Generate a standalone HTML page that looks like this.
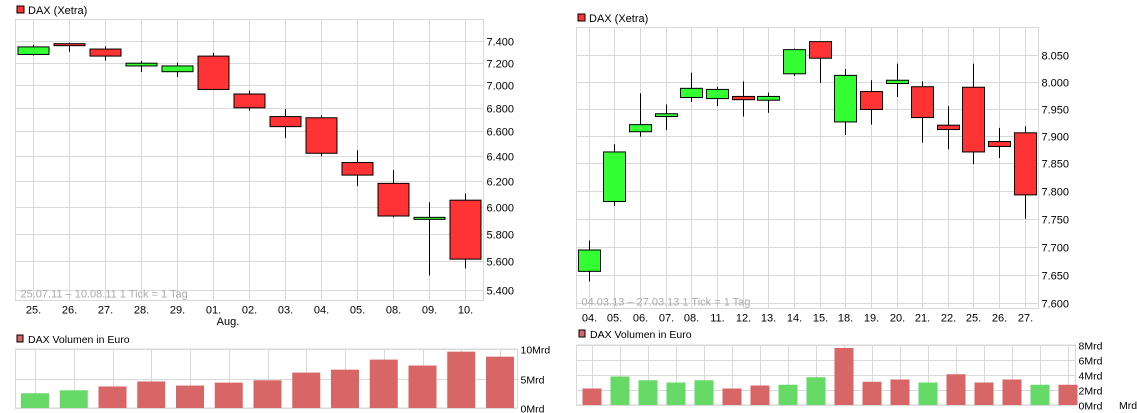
<!DOCTYPE html>
<html><head><meta charset="utf-8"><style>
body{margin:0;background:#fff;width:1137px;height:413px;overflow:hidden}
svg{display:block;font-family:"Liberation Sans",sans-serif}
</style></head><body>
<svg id="s" width="1137" height="413"></svg>
<script>
const leftDates=["25.","26.","27.","28.","29.","01.","02.","03.","04.","05.","08.","09.","10."];
const leftOpen=[7275,7375,7325,7170,7118,7260,6920,6725,6715,6345,6180,5905,6050];
const leftHigh=[7365,7385,7350,7215,7200,7290,6950,6790,6735,6445,6285,6035,6100];
const leftLow=[7265,7300,7220,7115,7070,6955,6775,6545,6395,6160,5920,5500,5550];
const leftClose=[7345,7358,7260,7195,7170,6960,6800,6640,6420,6245,5930,5920,5615];
const leftTicks=[5400,5600,5800,6000,6200,6400,6600,6800,7000,7200,7400];
const leftVol=[2.5,3.0,3.65,4.5,3.8,4.3,4.7,6.0,6.5,8.2,7.2,9.55,8.7];
const leftVolUp=[1,1,0,0,0,0,0,0,0,0,0,0,0];
const leftVolTicks=[0,5,10];

const rightDates=["04.","05.","06.","07.","08.","11.","12.","13.","14.","15.","18.","19.","20.","21.","22.","25.","26.","27."];
const rightOpen=[7656,7781,7908,7936,7971,7969,7973,7966,8015,8075,7926,7982,7997,7991,7920,7990,7890,7906];
const rightHigh=[7711,7885,7979,7958,8017,7991,8001,7980,8062,8075,8024,8003,8034,8001,7955,8034,7915,7918];
const rightLow=[7638,7773,7899,7911,7963,7955,7936,7943,8011,7998,7902,7921,7972,7888,7876,7849,7860,7750];
const rightClose=[7694,7871,7921,7941,7988,7986,7967,7973,8060,8044,8012,7949,8003,7934,7912,7871,7881,7793];
const rightTicks=[7600,7650,7700,7750,7800,7850,7900,7950,8000,8050];
const rightVol=[2.2,3.8,3.3,3.0,3.3,2.2,2.6,2.7,3.7,7.6,3.1,3.4,3.0,4.1,3.0,3.4,2.7,2.7];
const rightVolUp=[0,1,1,1,1,0,0,1,1,0,0,0,1,0,0,0,1,0];
const rightVolTicks=[0,2,4,6,8];

const S=document.getElementById('s');const NS="http://www.w3.org/2000/svg";
function mk(t,a,txt){const e=document.createElementNS(NS,t);for(const k in a)e.setAttribute(k,a[k]);if(txt!=null)e.textContent=txt;S.appendChild(e);return e;}
const GRID="#d9d9d9";

function candleChart(o){
  const yv=v=>o.y0+(Math.log(o.vTop)-Math.log(v))/(Math.log(o.vTop)-Math.log(o.vBot))*(o.y1-o.y0);
  const xc=i=>o.xFirst+i*o.step;
  let sq=mk('rect',{x:o.lx,y:o.ly-4,width:7,height:7,fill:'#ff3333',stroke:'#000','stroke-width':1});
  
  let lt=mk('text',{x:o.lx+11,y:o.ly+4,'font-size':11,fill:'#000'},'DAX (Xetra)');
  
  let bx=mk('rect',{x:o.bx0,y:o.by0,width:o.bx1-o.bx0,height:o.by1-o.by0,fill:'#fff',stroke:GRID,'stroke-width':1});
  
  o.ticks.forEach(t=>{const y=Math.round(yv(t))+0.5;
    let g=mk('line',{x1:o.bx0,x2:o.bx1,y1:y,y2:y,stroke:GRID});
    
    let l=mk('text',{x:o.bx1+3,y:y+4,'font-size':11,fill:'#000'},t.toLocaleString('de-DE'));
    });
  o.dates.forEach((d,i)=>{const x=Math.round(xc(i))+0.5;
    let g=mk('line',{x1:x,x2:x,y1:o.by0,y2:o.by1,stroke:GRID});
    
    let l=mk('text',{x:x,y:o.by1+13,'font-size':11,'text-anchor':'middle',fill:'#000'},d);
    });
  let rt=mk('text',{x:o.bx0+5,y:o.by1-3,'font-size':11,fill:'#aaa'},o.range);
  
  o.dates.forEach((d,i)=>{const x=Math.round(xc(i))+0.5;
    let w=mk('line',{x1:x,x2:x,y1:yv(o.high[i]),y2:yv(o.low[i]),stroke:'#000','stroke-width':1});
    
    const up=o.close[i]>=o.open[i];const t=yv(Math.max(o.open[i],o.close[i])),b=yv(Math.min(o.open[i],o.close[i]));
    let r=mk('rect',{x:x-o.bw/2,y:t,width:o.bw,height:Math.max(b-t,2),fill:up?'#33ff33':'#ff3333',stroke:'#000','stroke-width':1});
    });
}
function volChart(o){
  const yv=v=>o.y1-(v/o.vMax)*(o.y1-o.y0);
  const xc=i=>o.xFirst+i*o.step;
  let sq=mk('rect',{x:o.lx,y:o.ly-4,width:6,height:7,fill:'#d96666',stroke:'#000','stroke-width':1});
  
  let lt=mk('text',{x:o.lx+11,y:o.ly+4,'font-size':10.5,fill:'#000'},'DAX Volumen in Euro');
  
  let bx=mk('rect',{x:o.bx0,y:o.y0,width:o.bx1-o.bx0,height:o.y1-o.y0,fill:'#fff',stroke:GRID});
  
  o.ticks.forEach(t=>{const y=Math.round(yv(t))+0.5;
    let g=mk('line',{x1:o.bx0,x2:o.bx1,y1:y,y2:y,stroke:GRID});
    
    let l=mk('text',{x:o.bx1+3,y:y+4,'font-size':10.5,fill:'#000'},t+'Mrd');
    });
  o.vol.forEach((v,i)=>{const x=Math.round(xc(i))+0.5;
    let g=mk('line',{x1:x,x2:x,y1:o.y0,y2:o.y1,stroke:GRID});
    });
  o.vol.forEach((v,i)=>{const x=xc(i);
    let r=mk('rect',{x:x-o.bw/2,y:yv(v),width:o.bw,height:o.y1-yv(v),fill:o.up[i]?'#66d966':'#d96666'});
    });
}
candleChart({dates:leftDates,open:leftOpen,high:leftHigh,low:leftLow,close:leftClose,ticks:leftTicks,
  vTop:7400,vBot:5400,y0:41,y1:290,xFirst:33,step:36,bw:31,bx0:15.5,bx1:483.5,by0:19.5,by1:300.5,lx:17,ly:10,
  range:'25.07.11 – 10.08.11   1 Tick = 1 Tag'});
let aug=mk('text',{x:228,y:325,'font-size':11,'text-anchor':'middle',fill:'#000'},'Aug.');

candleChart({dates:rightDates,open:rightOpen,high:rightHigh,low:rightLow,close:rightClose,ticks:rightTicks,
  vTop:8050,vBot:7600,y0:55,y1:303,xFirst:588.7,step:25.65,bw:22,bx0:576.5,bx1:1038.5,by0:27.5,by1:308.5,lx:578,ly:18,
  range:'04.03.13 – 27.03.13   1 Tick = 1 Tag'});
volChart({vol:leftVol,up:leftVolUp,ticks:leftVolTicks,vMax:10,y0:349,y1:408,xFirst:35,step:38.75,bw:28,bx0:15.5,bx1:517.5,lx:17,ly:339});
volChart({vol:rightVol,up:rightVolUp,ticks:rightVolTicks,vMax:8,y0:345,y1:405,xFirst:592,step:28,bw:19,bx0:576.5,bx1:1075.5,lx:579,ly:334});
let mr=mk('text',{x:1119,y:409,'font-size':10.5,fill:'#000'},'Mrd');

</script>
</body></html>
